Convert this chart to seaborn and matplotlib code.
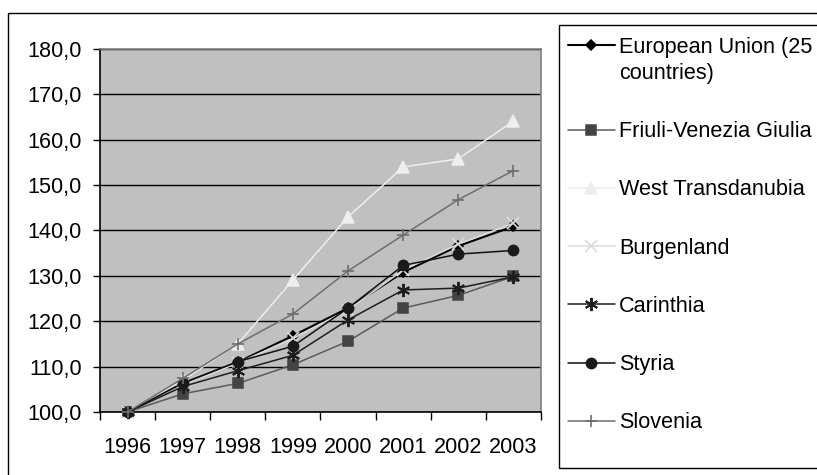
import matplotlib
matplotlib.use("Agg")
import matplotlib.pyplot as plt
import matplotlib.patches as mpatches
from matplotlib.ticker import FixedLocator, FuncFormatter
import numpy as np
import pandas as pd
import seaborn as sns

years = ["1996", "1997", "1998", "1999", "2000", "2001", "2002", "2003"]

eu25 = [100.0, 106.3, 111.0, 116.8, 122.9, 130.8, 136.6, 140.9]
friuli = [100.0, 104.0, 106.3, 110.4, 115.6, 122.9, 125.7, 129.9]
west_transdanubia = [100.0, 107.0, 115.0, 129.1, 143.0, 154.0, 155.8, 164.1]
burgenland = [100.0, 106.0, 110.8, 116.2, 122.5, 131.3, 137.0, 141.6]
carinthia = [100.0, 105.6, 109.1, 112.5, 120.3, 126.9, 127.3, 129.8]
styria = [100.0, 106.3, 111.1, 114.5, 122.9, 132.3, 134.8, 135.6]
slovenia = [100.0, 107.4, 115.0, 121.6, 131.1, 139.0, 146.8, 153.2]

series_names = [
    "European Union (25\ncountries)",
    "Friuli-Venezia Giulia",
    "West Transdanubia",
    "Burgenland",
    "Carinthia",
    "Styria",
    "Slovenia",
]
series_values = [eu25, friuli, west_transdanubia, burgenland, carinthia, styria, slovenia]

# line colour, marker colour, marker, marker size, line width, marker edge width
styles = [
    ("#000000", "#000000", "D", 5, 1.5, 1.1),
    ("#5a5a5a", "#444444", "s", 7, 1.1, 1.1),
    ("#eeeeee", "#eeeeee", "^", 9, 1.1, 1.1),
    ("#dcdcdc", "#dcdcdc", "x", 8, 1.1, 1.2),
    ("#1e1e1e", "#1e1e1e", (6, 2, 0), 9.5, 1.1, 1.4),
    ("#111111", "#1a1a1a", "o", 7.4, 1.1, 1.1),
    ("#6e6e6e", "#6e6e6e", "+", 8, 1.1, 1.2),
]

FS = 15.6

sns.set_theme(style="white")
plt.rcParams["font.family"] = ["Liberation Sans", "DejaVu Sans"]

fig = plt.figure(figsize=(8.17, 4.75), dpi=100)
ax = fig.add_axes([100 / 817, 1 - 412 / 475, 441 / 817, 363 / 475])
ax.set_facecolor("#c0c0c0")

xpos = np.arange(len(years))
for name, vals, (lc, mc, mk, ms, lw, mew) in zip(series_names, series_values, styles):
    df = pd.DataFrame({"x": xpos, "y": vals})
    sns.lineplot(
        data=df, x="x", y="y", ax=ax, color=lc, marker=mk, markersize=ms,
        markerfacecolor=mc, markeredgecolor=mc, markeredgewidth=mew,
        linewidth=lw, label=name, clip_on=False, zorder=3,
    )

ax.set_xlim(-0.5, len(years) - 0.5)
ax.set_ylim(100, 180)
ax.set_xlabel("")
ax.set_ylabel("")

# y axis: values with decimal comma, black gridlines
yt = np.arange(100, 181, 10)
ax.set_yticks(yt)
ax.yaxis.set_major_formatter(FuncFormatter(lambda v, p: f"{v:.1f}".replace(".", ",")))
ax.tick_params(axis="y", direction="out", length=5, width=1, color="black",
               pad=8, labelsize=FS, labelcolor="black", left=True)
ax.yaxis.grid(True, color="black", linewidth=1)
ax.set_axisbelow(True)

# x axis: tick marks between categories, labels centred on categories
ax.xaxis.set_major_locator(FixedLocator(np.arange(-0.5, len(years), 1.0)))
ax.xaxis.set_major_formatter(FuncFormatter(lambda v, p: ""))
ax.xaxis.set_minor_locator(FixedLocator(xpos))
ax.set_xticklabels(years, minor=True)
ax.tick_params(axis="x", which="major", direction="out", length=6, width=1,
               color="black", bottom=True)
ax.tick_params(axis="x", which="minor", length=0, pad=18, labelsize=FS,
               labelcolor="black", bottom=True)

for side in ["left", "bottom"]:
    ax.spines[side].set_color("black")
    ax.spines[side].set_linewidth(1.2)
for side in ["top", "right"]:
    ax.spines[side].set_color("#808080")
    ax.spines[side].set_linewidth(1.2)

handles, labels = ax.get_legend_handles_labels()
ax.get_legend().remove()
leg = fig.legend(
    handles, labels, loc="upper left", bbox_to_anchor=(559 / 817, 1 - 28 / 475),
    frameon=False, fontsize=FS,
    handlelength=2.15, handletextpad=0.2, borderpad=0.42, labelspacing=1.72,
    borderaxespad=0,
)
for t in leg.get_texts():
    t.set_color("black")
    t.set_linespacing(1.3)
# keep the first entry's sample level with the first line of its label
try:
    leg._legend_handle_box.get_children()[0].get_children()[0].align = "top"
except Exception:
    pass

# legend box
fig.add_artist(mpatches.Rectangle((559 / 817, 1 - 468 / 475), 0.5, 443 / 475,
                                  transform=fig.transFigure, fill=False,
                                  edgecolor="black", linewidth=1.0, zorder=0))

# outer chart border
fig.add_artist(mpatches.Rectangle((8 / 817, -0.2), 1.2, 1 - 13 / 475 + 0.2,
                                  transform=fig.transFigure, fill=False,
                                  edgecolor="black", linewidth=1.0))

fig.savefig("out.png", dpi=100, facecolor="white")
